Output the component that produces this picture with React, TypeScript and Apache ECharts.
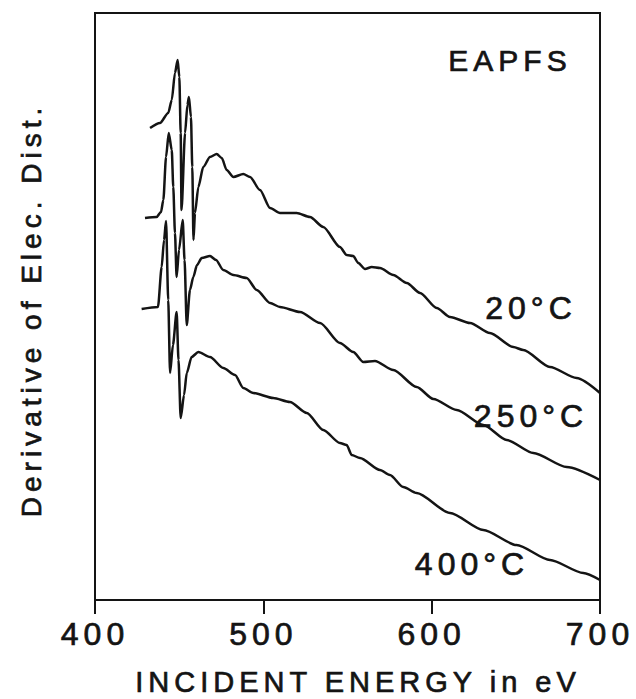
import React, { useEffect, useRef } from "react";
import * as echarts from "echarts";

// Incident energy (eV) vs derivative of electron distribution (arbitrary units)
const xTicks = [400, 500, 600, 700];
const seriesNames = ["20°C", "250°C", "400°C"];

const curve20C: [number, number][] = [
  [432.7, 472], [438.6, 477], [443.5, 487], [445.6, 500], [447.5, 527], [449.1, 540],
  [450.1, 523], [450.9, 467], [451.4, 390], [453.5, 467], [454.9, 495], [455.8, 503],
  [457.0, 483], [457.8, 433], [458.5, 360], [459.4, 387], [461.4, 413], [464.3, 433],
  [468.3, 443], [472.3, 446], [475.3, 442], [478.2, 430], [482.2, 423], [488.1, 426],
  [492.1, 423], [498.0, 410], [504.0, 392], [509.9, 387], [519.8, 387], [527.7, 383],
  [535.6, 373], [545.5, 353], [549.5, 345], [553.4, 344], [556.4, 337], [560.4, 331],
  [564.4, 333], [569.3, 332], [577.2, 325], [585.2, 317], [593.1, 307], [603.0, 292],
  [610.9, 283], [622.8, 277], [634.6, 267], [648.5, 253], [654.4, 250], [670.3, 233],
  [686.1, 222], [700, 207],
];

const curve250C: [number, number][] = [
  [429.7, 382], [436.6, 383], [439.2, 388], [440.6, 400], [442.2, 443], [443.8, 467],
  [445.6, 450], [446.5, 413], [447.5, 367], [448.5, 323], [449.9, 350], [452.1, 380],
  [453.2, 340], [454.5, 275], [456.4, 310], [458.4, 323], [460.6, 335], [463.4, 342],
  [468.3, 344], [471.9, 340], [476.2, 330], [482.2, 325], [490.1, 322], [496.1, 310],
  [504.0, 297], [509.9, 293], [521.8, 288], [533.7, 277], [545.5, 257], [553.4, 248],
  [559.4, 238], [566.3, 239], [577.2, 230], [591.1, 213], [601.0, 201], [614.9, 190],
  [630.7, 175], [644.6, 160], [660.4, 147], [680.2, 133], [700, 120],
];

const curve400C: [number, number][] = [
  [427.7, 291], [437.4, 293], [439.6, 333], [441.0, 360], [442.2, 379], [443.5, 300],
  [444.6, 227], [446.3, 255], [448.5, 288], [449.6, 240], [450.9, 182], [452.9, 205],
  [454.5, 227], [457.4, 243], [461.4, 248], [468.3, 243], [476.2, 232], [483.2, 225],
  [488.1, 212], [494.0, 207], [505.9, 202], [515.8, 198], [525.8, 187], [535.6, 170],
  [545.5, 157], [549.5, 155], [552.5, 145], [557.4, 142], [569.3, 130], [575.2, 125],
  [583.1, 113], [591.1, 107], [610.9, 87], [630.7, 70], [650.4, 55], [670.3, 40],
  [690.1, 27], [700, 20],
];

const INK = "#141414";
const FONT = '"Liberation Sans", Arial, sans-serif';

const txt = (text: string, x: number, y: number, fontSize: number, rotation = 0) => ({
  type: "text",
  x,
  y,
  rotation,
  style: {
    text,
    fill: INK,
    stroke: INK,
    lineWidth: 0.7,
    fontSize,
    fontFamily: FONT,
    textAlign: "center",
    textVerticalAlign: "middle",
  },
});

export default function App() {
  const ref = useRef<HTMLDivElement>(null);

  useEffect(() => {
    if (!ref.current) return;
    const chart = echarts.init(ref.current, null, { renderer: "svg" });
    const curves = [curve20C, curve250C, curve400C];
    chart.setOption({
      animation: false,
      backgroundColor: "#ffffff",
      grid: {
        left: 95,
        right: 36,
        top: 13,
        bottom: 99,
        show: true,
        borderColor: INK,
        borderWidth: 2,
      },
      xAxis: {
        type: "value",
        min: 400,
        max: 700,
        interval: 100,
        axisLine: { show: true, lineStyle: { color: INK, width: 2 } },
        axisTick: { show: true, inside: false, length: 14, lineStyle: { color: INK, width: 2 } },
        axisLabel: {
          show: true,
          margin: 34,
          verticalAlign: "middle",
          color: INK,
          textBorderColor: INK,
          textBorderWidth: 0.7,
          fontSize: 32,
          fontFamily: FONT,
          formatter: (v: number) => (xTicks.includes(v) ? String(v) : ""),
        },
        splitLine: { show: false },
      },
      yAxis: {
        type: "value",
        min: 0,
        max: 587,
        axisLine: { show: false },
        axisTick: { show: false },
        axisLabel: { show: false },
        splitLine: { show: false },
      },
      series: curves.map((c, i) => ({
        name: seriesNames[i],
        type: "line",
        data: c,
        showSymbol: false,
        smooth: 0.25,
        smoothMonotone: "x",
        lineStyle: { color: INK, width: 2.5 },
        z: 3,
      })),
      graphic: [
        txt("Derivative of Elec. Dist.", 31, 310, 28, Math.PI / 2),
        txt("INCIDENT ENERGY in eV", 358, 682, 29),
        txt("EAPFS", 510, 60, 30),
        txt(seriesNames[0], 531, 308, 32),
        txt(seriesNames[1], 531, 416, 32),
        txt(seriesNames[2], 472, 564, 32),
      ],
    });
    return () => chart.dispose();
  }, []);

  return (
    <div style={{ position: "fixed", left: 0, top: 0, width: 636, height: 699, background: "#fff" }}>
      <style>{"#eapfs-chart text { letter-spacing: 5px; }"}</style>
      <div id="eapfs-chart" ref={ref} style={{ width: 636, height: 699 }} />
    </div>
  );
}
